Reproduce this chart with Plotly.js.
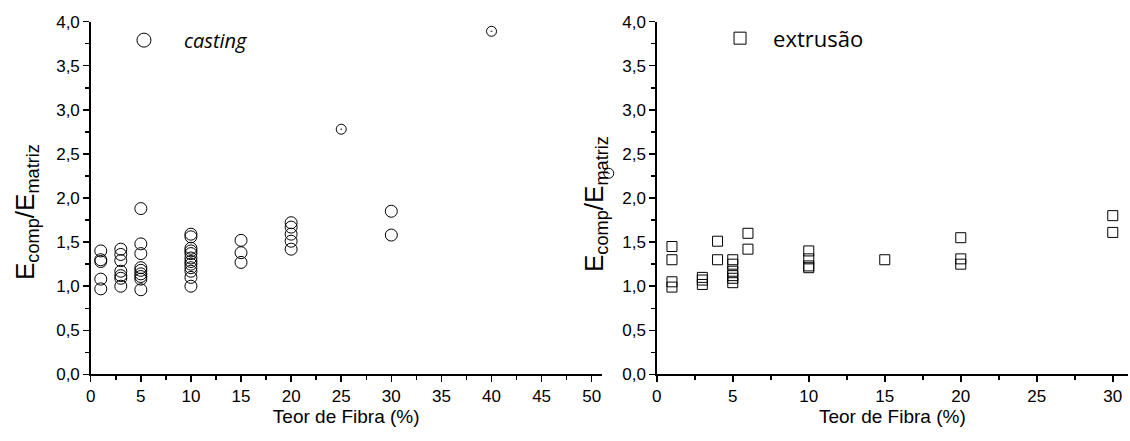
<!DOCTYPE html>
<html>
<head>
<meta charset="utf-8">
<script src="https://cdn.plot.ly/plotly-3.0.1.min.js"></script>
<style>html,body{margin:0;padding:0;background:#fff;}</style>
</head>
<body>
<div id="chart" style="width:1130px;height:441px;"></div>
<script>
// Casting: fibre content (%) and modulus ratio
const castingFiber = [1,1,1,1,1, 3,3,3,3,3,3,3, 5,5,5,5,5,5,5,5,5,
  10,10,10,10,10,10,10,10,10,10,10,10, 15,15,15, 20,20,20,20,20, 30,30];
const castingRatio = [1.40,1.30,1.28,1.08,0.97, 1.42,1.36,1.29,1.17,1.12,1.09,1.00,
  1.88,1.48,1.37,1.21,1.18,1.14,1.11,1.08,0.96,
  1.59,1.56,1.43,1.40,1.37,1.32,1.28,1.25,1.21,1.17,1.10,1.00,
  1.52,1.38,1.27, 1.72,1.67,1.59,1.51,1.42, 1.85,1.58];
// Casting points drawn with a centre dot (smaller markers)
const castingDotFiber = [25, 40];
const castingDotRatio = [2.78, 3.89];
// Stray casting point lying beyond the 0-50 axis
const castingStrayFiber = [51.7];
const castingStrayRatio = [2.28];

// Extrusion
const extrusionFiber = [1,1,1,1, 3,3,3, 4,4, 5,5,5,5,5,5, 6,6, 10,10,10,10, 15, 20,20,20, 30,30];
const extrusionRatio = [1.45,1.30,1.05,0.99, 1.10,1.07,1.02, 1.51,1.30,
  1.30,1.25,1.17,1.12,1.09,1.04, 1.60,1.42, 1.40,1.31,1.23,1.21, 1.30, 1.55,1.31,1.25, 1.80,1.61];

const xTitle = 'Teor de Fibra (%)';
const yTitle = 'E<sub>comp</sub>/E<sub>matriz</sub>';
const legendCasting = '<i>casting</i>';
const legendExtrusion = 'extrusão';

const tickFont = {family:'Liberation Sans, Arial, sans-serif', size:17, color:'#000'};
const titleFont = {family:'Liberation Sans, Arial, sans-serif', size:19, color:'#000'};
const yTitleFont = {family:'Liberation Sans, Arial, sans-serif', size:26, color:'#000'};

const traces = [
  {x:castingStrayFiber, y:castingStrayRatio, type:'scatter', mode:'markers', xaxis:'x3', yaxis:'y',
   marker:{symbol:'circle-open-dot', size:10, color:'#000', line:{width:1, color:'#000'}},
   showlegend:false, cliponaxis:false},
  {x:castingFiber, y:castingRatio, type:'scatter', mode:'markers', xaxis:'x', yaxis:'y',
   marker:{symbol:'circle-open', size:12, color:'#000', line:{width:1, color:'#000'}},
   showlegend:false, cliponaxis:false},
  {x:castingDotFiber, y:castingDotRatio, type:'scatter', mode:'markers', xaxis:'x', yaxis:'y',
   marker:{symbol:'circle-open-dot', size:10, color:'#000', line:{width:1, color:'#000'}},
   showlegend:false, cliponaxis:false},
  {x:[null], y:[null], type:'scatter', mode:'markers', xaxis:'x', yaxis:'y', name:legendCasting,
   marker:{symbol:'circle-open', size:14, color:'#000', line:{width:1, color:'#000'}},
   showlegend:true, legend:'legend'},
  {x:extrusionFiber, y:extrusionRatio, type:'scatter', mode:'markers', xaxis:'x2', yaxis:'y2',
   marker:{symbol:'square-open', size:10, color:'#000', line:{width:1, color:'#000'}},
   showlegend:false, cliponaxis:false},
  {x:[null], y:[null], type:'scatter', mode:'markers', xaxis:'x2', yaxis:'y2', name:legendExtrusion,
   marker:{symbol:'square-open', size:12, color:'#000', line:{width:1, color:'#000'}},
   showlegend:true, legend:'legend2'}
];

function xAxis(domain, range, anchor) {
  return {domain:domain, range:range, anchor:anchor, tick0:0, dtick:5,
    ticks:'outside', ticklen:6, tickwidth:1.5, tickcolor:'#000',
    showline:true, linecolor:'#000', linewidth:1.5, showgrid:false, zeroline:false,
    minor:{dtick:2.5, tick0:0, ticks:'outside', ticklen:4, tickwidth:1.5, tickcolor:'#000', showgrid:false},
    tickfont:tickFont, title:{text:xTitle, font:titleFont, standoff:1}, automargin:false, fixedrange:true};
}
function yAxis(domain, anchor) {
  return {domain:domain, range:[0,4], anchor:anchor, tick0:0, dtick:0.5, tickformat:'.1f',
    ticks:'outside', ticklen:6, tickwidth:1.5, tickcolor:'#000',
    showline:true, linecolor:'#000', linewidth:1.5, showgrid:false, zeroline:false,
    minor:{dtick:0.25, tick0:0, ticks:'outside', ticklen:4, tickwidth:1.5, tickcolor:'#000', showgrid:false},
    tickfont:tickFont, automargin:false, fixedrange:true};
}

const yDom = [0.151, 0.951];
const layout = {
  width:1130, height:441,
  margin:{l:0, r:0, t:0, b:0},
  paper_bgcolor:'#fff', plot_bgcolor:'rgba(0,0,0,0)',
  separators:',.',
  showlegend:true,
  xaxis3: {domain:[0.0803, 0.5812], range:[0, 56.49], anchor:'y', visible:false, showgrid:false, zeroline:false, fixedrange:true},
  xaxis: xAxis([0.0803, 0.5325], [0, 51], 'y'),
  yaxis: yAxis(yDom, 'x'),
  xaxis2: xAxis([0.5812, 0.9982], [0, 31], 'y2'),
  yaxis2: yAxis(yDom, 'x2'),
  legend:{x:0.092, y:0.909, xanchor:'left', yanchor:'middle', bgcolor:'rgba(0,0,0,0)',
    itemwidth:70, itemsizing:'trace', font:{family:'Open Sans, sans-serif', size:20, color:'#000'}},
  legend2:{x:0.6257, y:0.913, xanchor:'left', yanchor:'middle', bgcolor:'rgba(0,0,0,0)',
    itemwidth:56, itemsizing:'trace', font:{family:'Open Sans, sans-serif', size:22, color:'#000'}},
  annotations:[
    {text:yTitle, textangle:-90, xref:'paper', yref:'paper', x:27/1130, y:1-212/441,
     xanchor:'center', yanchor:'middle', showarrow:false, font:yTitleFont},
    {text:yTitle, textangle:-90, xref:'paper', yref:'paper', x:595/1130, y:1-204/441,
     xanchor:'center', yanchor:'middle', showarrow:false, font:yTitleFont}
  ]
};

Plotly.newPlot('chart', traces, layout, {displayModeBar:false, staticPlot:true});
</script>
</body>
</html>
